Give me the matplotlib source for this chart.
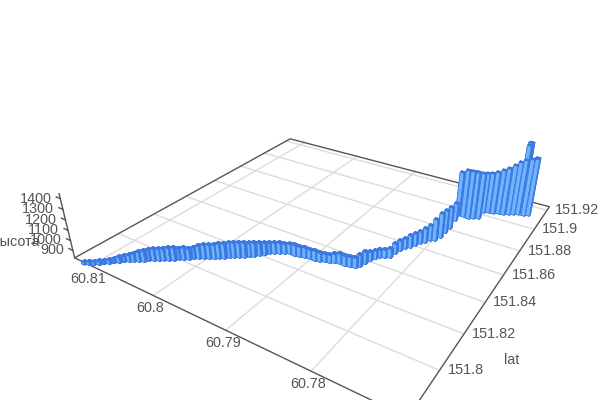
import numpy as np
import matplotlib
matplotlib.use("Agg")
import matplotlib.pyplot as plt
from mpl_toolkits.mplot3d import proj3d

plt.rcParams['font.family'] = ['Liberation Sans', 'DejaVu Sans']

lat = [151.7777,151.7786,151.7796,151.7807,151.7822,151.7833,151.7848,151.7859,151.7875,151.7886,151.7896,151.7907,151.7918,151.7934,151.7944,151.7955,151.7966,151.7977,151.7988,151.8004,151.8014,151.8025,151.8041,151.8052,151.8063,151.8074,151.8085,151.8096,151.8107,151.8123,151.8134,151.8145,151.8156,151.8172,151.8183,151.8200,151.8216,151.8233,151.8244,151.8255,151.8266,151.8277,151.8276,151.8281,151.8287,151.8292,151.8291,151.8296,151.8307,151.8311,151.8322,151.8327,151.8326,151.8331,151.8336,151.8352,151.8381,151.8410,151.8433,151.8450,151.8461,151.8472,151.8509,151.8539,151.8564,151.8582,151.8607,151.8632,151.8650,151.8676,151.8687,151.8721,151.8770,151.8812,151.8888,151.8937,151.8941,151.8936,151.8949,151.8961,151.9025,151.9037,151.9041,151.9053,151.9056,151.9069,151.9081,151.9093,151.9097,151.9109,151.9119,151.9205,151.9209,151.9161,151.9192,151.9198,151.8969,151.8969,151.8998,151.8993,151.9019,151.9043]
lon = [60.8109,60.8104,60.8099,60.8094,60.8091,60.8086,60.8083,60.8078,60.8075,60.8070,60.8066,60.8061,60.8056,60.8053,60.8048,60.8043,60.8039,60.8034,60.8029,60.8026,60.8021,60.8016,60.8013,60.8008,60.8003,60.7998,60.7993,60.7989,60.7984,60.7980,60.7976,60.7971,60.7966,60.7962,60.7958,60.7954,60.7950,60.7947,60.7942,60.7937,60.7932,60.7927,60.7920,60.7914,60.7908,60.7902,60.7895,60.7889,60.7884,60.7878,60.7874,60.7868,60.7861,60.7855,60.7849,60.7846,60.7844,60.7842,60.7839,60.7836,60.7831,60.7826,60.7825,60.7823,60.7820,60.7816,60.7813,60.7810,60.7806,60.7803,60.7798,60.7795,60.7795,60.7794,60.7796,60.7798,60.7791,60.7784,60.7779,60.7773,60.7773,60.7768,60.7762,60.7756,60.7750,60.7744,60.7739,60.7734,60.7727,60.7722,60.7724,60.7731,60.7733,60.7738,60.7739,60.7738,60.7797,60.7787,60.7783,60.7776,60.7796,60.7786]
height = [850,855,855,865,855,866,866,886,886,896,906,926,936,936,946,946,946,956,956,937,947,937,937,957,967,967,967,977,977,977,977,977,977,967,967,957,948,938,938,938,927,927,937,927,927,917,926,916,906,906,916,926,925,925,925,945,946,916,906,907,907,917,927,928,928,949,949,950,971,981,1043,1075,1056,1048,1009,1284,1314,1322,1312,1301,1245,1245,1265,1286,1315,1346,1377,1397,1416,1426,1407,1314,1256,1485,1489,1482,1059,1155,1187,1080,1155,1112]

lat_ticks = [151.8, 151.82, 151.84, 151.86, 151.88, 151.9, 151.92]
lon_ticks = [60.81, 60.8, 60.79, 60.78]
height_ticks = [900, 1000, 1100, 1200, 1300, 1400]

lat_lim = (151.77804, 151.92390)
lon_lim = (60.77048, 60.81288)
height_lim = (825, 1445)

LIGHT = '#6fb4ff'
DARK = '#3b78e0'
AXIS = '#555555'
GRID = '#dcdcdc'
TEXT = '#555555'

fig = plt.figure(figsize=(6, 4), dpi=100)
ax = fig.add_subplot(projection='3d')
# camera fitted to the reference floor corners
side = 900.0
scale = side / 0.185
left = 328.85 - scale * 0.095
bottom = (400 - 200.85) - scale * 0.095
ax.set_position([left / 600, bottom / 400, side / 600, side / 400])
ax.view_init(28.632, -147.042)
ax.set_box_aspect((1, np.exp(0.0136), np.exp(-1.61424)), zoom=np.exp(-0.61662))
ax.set_proj_type('persp', focal_length=np.exp(-2.08745))
ax.set_xlim(*lat_lim, view_margin=0)
ax.set_ylim(*lon_lim, view_margin=0)
ax.set_zlim(*height_lim, view_margin=0)
ax.set_axis_off()
ax.computed_zorder = False

z0 = height_lim[0]
la0, la1 = lat_lim
lo0, lo1 = lon_lim

for t in lat_ticks:
	ax.plot([t, t], [lo0, lo1], [z0, z0], color=GRID, lw=1, zorder=1)
for t in lon_ticks:
	ax.plot([la0, la1], [t, t], [z0, z0], color=GRID, lw=1, zorder=1)
# floor frame and height axis
ax.plot([la0, la1, la1, la0, la0], [lo0, lo0, lo1, lo1, lo0], [z0] * 5, color=AXIS, lw=1, zorder=2)
ax.plot([la0, la0], [lo1, lo1], height_lim, color=AXIS, lw=1, zorder=2)
for t in height_ticks:
	ax.plot([la0, la0], [lo1, lo1 + 0.0007], [t, t], color=AXIS, lw=1, zorder=2)

# bars: square in box units, so the lat side is longer in degrees
dlat = 0.0017
dlon = 0.0005
n = len(lat)
face_colors = [DARK, DARK, DARK, DARK, LIGHT, DARK] * n
ax.bar3d(np.array(lat) - dlat / 2, np.array(lon) - dlon / 2, [z0] * n, dlat, dlon,
	np.array(height) - z0, color=face_colors, shade=False, zorder=3,
	edgecolor=DARK, linewidth=0.5)

M = ax.get_proj()
def label(x, y, z, text, dx, dy, ha, va='center'):
	x2, y2, _ = proj3d.proj_transform(x, y, z, M)
	ax.annotate(text, xy=(x2, y2), xytext=(dx, dy), textcoords='offset pixels',
		ha=ha, va=va, color=TEXT, fontsize=10.4, annotation_clip=False)

for t in lat_ticks:
	label(t, lo0, z0, '%g' % t, 8, 0, 'left')
for t in lon_ticks:
	label(la0, t, z0, '%g' % t, -3, -13, 'center')
for t in height_ticks:
	label(la0, lo1, t, '%g' % t, -9, 0, 'right')
label(151.8, lo0, z0, 'lat', 72, 10, 'center')
label(la0, lo1, 1135, 'высота', -51, -15, 'center')

fig.savefig('out.png', dpi=100)
